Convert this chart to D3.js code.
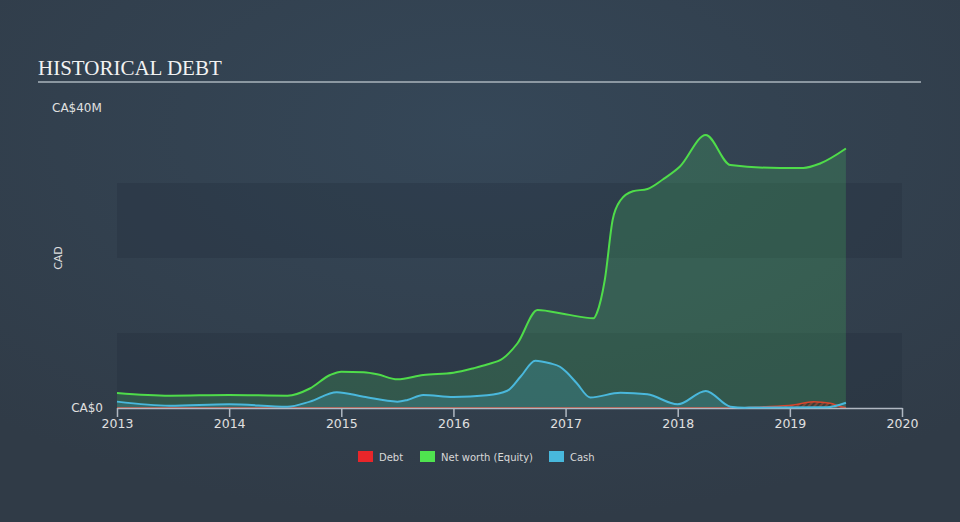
<!DOCTYPE html>
<html><head><meta charset="utf-8">
<script src="https://cdn.jsdelivr.net/npm/d3@7"></script>
<style>html,body{margin:0;padding:0;background:#323f4c;}svg{display:block;}</style>
</head><body>
<script>
// ---- data (CA$ millions) ----
const netWorthDates = [2013.0,2013.47,2014.0,2014.52,2014.72,2014.9,2015.0,2015.2,2015.32,2015.5,2015.73,2016.0,2016.18,2016.3,2016.44,2016.57,2016.75,2017.0,2017.25,2017.28,2017.35,2017.42,2017.49,2017.6,2017.73,2017.87,2018.02,2018.25,2018.47,2018.91,2019.12,2019.27,2019.5];
const netWorthValues = [2.0,1.64,1.73,1.64,2.6,4.4,4.85,4.76,4.5,3.82,4.4,4.7,5.3,5.8,6.6,8.6,13.07,12.5,11.96,12.7,17.1,25.1,27.7,28.9,29.2,30.5,32.2,36.4,32.4,32.0,32.0,32.6,34.6];
const cashDates = [2013.0,2013.47,2014.0,2014.52,2014.72,2014.96,2015.2,2015.5,2015.59,2015.73,2016.0,2016.3,2016.48,2016.6,2016.73,2016.86,2016.95,2017.0,2017.1,2017.22,2017.49,2017.73,2018.0,2018.25,2018.47,2018.6,2019.33,2019.5];
const cashValues = [0.85,0.3,0.5,0.17,0.85,2.1,1.5,0.85,1.07,1.73,1.47,1.7,2.3,4.2,6.3,5.96,5.5,4.9,3.3,1.4,2.04,1.82,0.49,2.27,0.18,0.05,0.1,0.7];
const debtDates = [2013.0,2018.5,2018.75,2019.03,2019.21,2019.36,2019.45,2019.5];
const debtValues = [0,0,0.15,0.4,0.85,0.63,0.2,0.05];
const xTickLabels = ["2013","2014","2015","2016","2017","2018","2019","2020"];
const yTickLabels = ["CA$0","CA$40M"];
const legendLabels = ["Debt","Net worth (Equity)","Cash"];

const W = 960, H = 522;
const svg = d3.select("body").append("svg").attr("width", W).attr("height", H);
const defs = svg.append("defs");
const rg = defs.append("radialGradient").attr("id","bg").attr("cx","50%").attr("cy","25%").attr("r","75%");
rg.append("stop").attr("offset","0%").attr("stop-color","#354758");
rg.append("stop").attr("offset","100%").attr("stop-color","#303b47");
svg.append("rect").attr("width",W).attr("height",H).attr("fill","url(#bg)");

const pat = defs.append("pattern").attr("id","hatch").attr("patternUnits","userSpaceOnUse")
  .attr("width",4).attr("height",4).attr("patternTransform","rotate(45)");
pat.append("rect").attr("width",4).attr("height",4).attr("fill","#7a4a3a");
pat.append("rect").attr("width",2).attr("height",4).attr("fill","#3a3f3a");

const x = d3.scaleLinear().domain([2013,2020]).range([117,902]);
const y = d3.scaleLinear().domain([0,40]).range([408,108]);

// bands
[[0,10],[20,30]].forEach(b=>{
  svg.append("rect").attr("x",x(2013)).attr("width",x(2020)-x(2013))
    .attr("y",y(b[1])).attr("height",y(b[0])-y(b[1]))
    .attr("fill","#1f2a38").attr("opacity",0.28);
});

// title
svg.append("text").attr("x",38).attr("y",75).text("HISTORICAL DEBT")
  .attr("font-family","Liberation Serif, serif").attr("font-size",21).attr("fill","#f2f2f2");
svg.append("line").attr("x1",38).attr("x2",921).attr("y1",82).attr("y2",82)
  .attr("stroke","#aab4bd").attr("stroke-width",1.5);

const zip = (ds,vs)=>ds.map((d,i)=>({d,v:vs[i]}));
const nw = zip(netWorthDates,netWorthValues), cash = zip(cashDates,cashValues), debt = zip(debtDates,debtValues);
const curve = d3.curveMonotoneX;
const area = d3.area().x(p=>x(p.d)).y0(y(0)).y1(p=>y(p.v)).curve(curve);
const line = d3.line().x(p=>x(p.d)).y(p=>y(p.v)).curve(curve);

svg.append("path").attr("d",area(nw)).attr("fill","#4cd964").attr("opacity",0.2);
svg.append("path").attr("d",area(cash)).attr("fill","#48b8dc").attr("opacity",0.2);
svg.append("path").attr("d",area(debt)).attr("fill","url(#hatch)");
svg.append("path").attr("d",line(debt)).attr("fill","none").attr("stroke","#e8452c").attr("stroke-width",1.5).attr("opacity",0.9);

// axis
const ax = svg.append("g").attr("transform",`translate(0,${y(0)})`)
  .call(d3.axisBottom(x).tickValues(d3.range(2013,2021)).tickFormat((d,i)=>xTickLabels[i]).tickSize(9).tickSizeOuter(0));
ax.select(".domain").attr("stroke","#b0b8c2").attr("stroke-width",1.5);
ax.selectAll(".tick line").attr("stroke","#b0b8c2").attr("stroke-width",1.5);
ax.selectAll(".tick text").attr("fill","#e0e0e0").attr("font-size",12.5).attr("font-family","DejaVu Sans, sans-serif").attr("dy","0.6em");

svg.append("path").attr("d",line(nw)).attr("fill","none").attr("stroke","#4fdc4a").attr("stroke-width",2);
svg.append("path").attr("d",line(cash)).attr("fill","none").attr("stroke","#4ab8dc").attr("stroke-width",2);

// y labels
svg.append("text").attr("x",103).attr("y",y(0)).attr("dy","0.35em").attr("text-anchor","end")
  .text(yTickLabels[0]).attr("font-family","DejaVu Sans, sans-serif").attr("font-size",12).attr("fill","#e0e0e0");
svg.append("text").attr("x",52).attr("y",y(40)).attr("dy","0.35em")
  .text(yTickLabels[1]).attr("font-family","DejaVu Sans, sans-serif").attr("font-size",12).attr("fill","#e0e0e0");
svg.append("text").attr("transform","translate(62,258) rotate(-90)").attr("text-anchor","middle")
  .text("CAD").attr("font-family","DejaVu Sans, sans-serif").attr("font-size",11).attr("fill","#e0e0e0");

// legend
const legColors = ["#e8262a","#4fe34f","#48b8dc"];
const legX = [358,420,549];
legendLabels.forEach((l,i)=>{
  svg.append("rect").attr("x",legX[i]).attr("y",451).attr("width",15).attr("height",11).attr("fill",legColors[i]);
  svg.append("text").attr("x",legX[i]+21).attr("y",457).attr("dy","0.35em").text(l)
    .attr("font-family","DejaVu Sans, sans-serif").attr("font-size",10).attr("fill","#d8d8d8");
});
</script>
</body></html>
